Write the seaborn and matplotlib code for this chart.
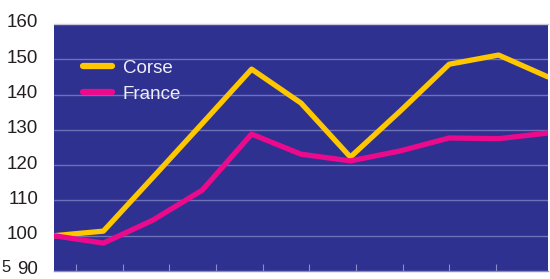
import matplotlib
matplotlib.use("Agg")
import matplotlib.pyplot as plt
import matplotlib.transforms as mtransforms
import seaborn as sns
import pandas as pd
import numpy as np

periods = list(range(11))
corse = [100, 101.3, 116.5, 131.8, 147.2, 137.6, 122.3, 135.2, 148.6, 151.2, 145.0]
france = [100, 97.9, 104.4, 112.9, 128.8, 123.1, 121.2, 124.0, 127.7, 127.5, 129.1]
series_names = ["Corse", "France"]
y_ticks = [90, 100, 110, 120, 130, 140, 150, 160]

df = pd.DataFrame({
    "x": periods * 2,
    "value": corse + france,
    "serie": [series_names[0]] * len(periods) + [series_names[1]] * len(periods),
})

sns.set_theme(style="white")
plt.rcParams["font.family"] = ["Liberation Sans", "DejaVu Sans"]

fig = plt.figure(figsize=(5.5, 2.79), dpi=100)
ax = fig.add_axes([54 / 550, 8 / 279, 494 / 550, 247 / 279])
ax.set_facecolor("#2E3190")

sns.lineplot(data=df, x="x", y="value", hue="serie",
             palette={"Corse": "#FFC700", "France": "#EB0A8C"},
             linewidth=3.8, ax=ax, legend=True, zorder=3)

ax.set_xlim(0, 10)
ax.set_ylim(90, 160)
ax.set_yticks(y_ticks)
ax.set_yticklabels([str(v) for v in y_ticks], fontsize=13.5, color="#231F20")
ax.tick_params(axis="y", length=0, pad=11.5)
offset = mtransforms.ScaledTranslation(0, 3 / 100, fig.dpi_scale_trans)
for lab in ax.get_yticklabels():
    lab.set_transform(lab.get_transform() + offset)

for v in y_ticks[1:-1]:
    ax.axhline(v, color="#6F71B9", linewidth=1.0, zorder=1)

xt = 0.445 + 0.945 * np.arange(10)
ax.set_xticks(xt)
ax.set_xticklabels([])
ax.tick_params(axis="x", direction="in", length=5, width=0.8, color="#8A8CC8", bottom=True)
ax.set_xlabel("")
ax.set_ylabel("")

for s in ["left", "right"]:
    ax.spines[s].set_visible(False)
ax.spines["bottom"].set_color("#8A8CC8")
ax.spines["bottom"].set_linewidth(1.0)
ax.spines["top"].set_color("#C9C9D6")
ax.spines["top"].set_linewidth(1.0)

leg = ax.legend(loc="upper left", bbox_to_anchor=(0.025, 0.925), frameon=False,
                fontsize=13.5, handlelength=1.55, handletextpad=0.55, labelspacing=0.5)
for t in leg.get_texts():
    t.set_color("#EEEEF8")
for h in leg.get_lines():
    h.set_linewidth(4.5)
    h.set_solid_capstyle("round")

fig.text(1 / 550, 1 - 267 / 279, "5", fontsize=12, color="#231F20", va="center", ha="left")

fig.savefig("out.png", dpi=100)
